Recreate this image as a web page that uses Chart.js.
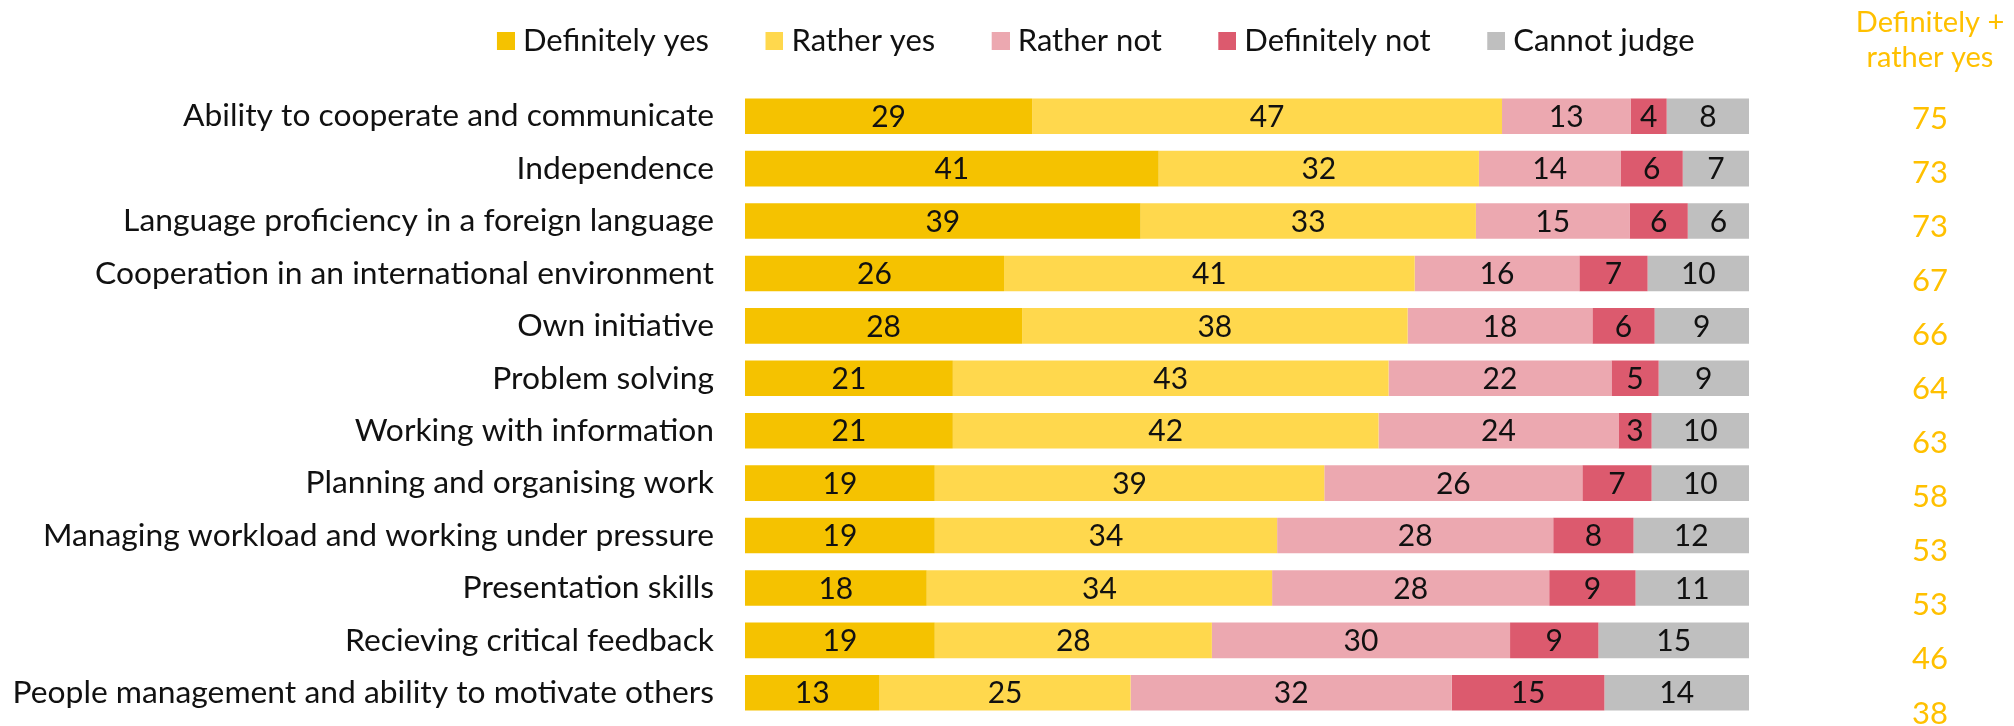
<!DOCTYPE html>
<html>
<head>
<meta charset="utf-8">
<script src="https://cdn.jsdelivr.net/npm/chart.js@4.4.1/dist/chart.umd.min.js"></script>
<style>
  html, body { margin: 0; padding: 0; background: #ffffff; }
  canvas { display: block; }
</style>
</head>
<body>
<canvas id="chart" width="2014" height="726"></canvas>
<script>
const categories = [
  'Ability to cooperate and communicate',
  'Independence',
  'Language proficiency in a foreign language',
  'Cooperation in an international environment',
  'Own initiative',
  'Problem solving',
  'Working with information',
  'Planning and organising work',
  'Managing workload and working under pressure',
  'Presentation skills',
  'Recieving critical feedback',
  'People management and ability to motivate others'
];
const seriesNames = ['Definitely yes', 'Rather yes', 'Rather not', 'Definitely not', 'Cannot judge'];
const definitelyYes = [28.6, 41.2, 39.4, 25.8, 27.6, 20.7, 20.7, 18.9, 18.9, 18.1, 18.9, 13.4];
const ratherYes     = [46.8, 31.9, 33.4, 40.9, 38.4, 43.4, 42.4, 38.8, 34.1, 34.4, 27.6, 25.0];
const ratherNot     = [12.8, 14.1, 15.3, 16.4, 18.4, 22.2, 23.9, 25.7, 27.5, 27.6, 29.7, 32.0];
const definitelyNot = [3.6, 6.2, 5.8, 6.8, 6.2, 4.7, 3.3, 6.9, 8.0, 8.6, 8.8, 15.2];
const cannotJudge   = [8.2, 6.6, 6.1, 10.1, 9.4, 9.0, 9.7, 9.7, 11.5, 11.3, 15.0, 14.4];
const positiveTotal = [75, 73, 73, 67, 66, 64, 63, 58, 53, 53, 46, 38];
const headerLines = ['Definitely +', 'rather yes'];

const colors = ['#F5C200', '#FFD84D', '#ECA8B0', '#DC5A6E', '#BFBFBF'];
const ORANGE = '#FFC000';
const FONT = 'Lato';
const TEXT = '#111111';

function swatch(color) {
  const c = document.createElement('canvas');
  c.width = 57; c.height = 18;
  const g = c.getContext('2d');
  g.fillStyle = color;
  g.fillRect(39, 0, 18, 18);
  return c;
}
const swatches = colors.map(swatch);

const valueLabels = {
  id: 'valueLabels',
  afterDatasetsDraw(chart) {
    const ctx = chart.ctx;
    ctx.save();
    ctx.font = '30px ' + FONT;
    ctx.fillStyle = TEXT;
    ctx.textAlign = 'center';
    ctx.textBaseline = 'middle';
    chart.data.datasets.forEach((ds, di) => {
      const meta = chart.getDatasetMeta(di);
      meta.data.forEach((bar, i) => {
        const v = ds.data[i];
        ctx.fillText(String(Math.round(v)), (bar.x + bar.base) / 2, bar.y + 1);
      });
    });
    ctx.restore();
  }
};

const header = {
  id: 'header',
  afterDraw(chart) {
    const ctx = chart.ctx;
    const y2 = chart.scales.y2;
    ctx.save();
    ctx.font = '29px ' + FONT;
    ctx.fillStyle = ORANGE;
    ctx.textAlign = 'center';
    ctx.textBaseline = 'alphabetic';
    const cx = y2.left + 181;
    ctx.fillText(headerLines[0], cx, 32);
    ctx.fillText(headerLines[1], cx, 67);
    ctx.restore();
  }
};

const datasetArrays = [definitelyYes, ratherYes, ratherNot, definitelyNot, cannotJudge];

function noPad(s) { s.paddingTop = 0; s.paddingBottom = 0; s.paddingLeft = 0; s.paddingRight = 0; }

new Chart(document.getElementById('chart'), {
  type: 'bar',
  data: {
    labels: categories,
    datasets: datasetArrays.map((arr, i) => ({
      label: seriesNames[i],
      data: arr,
      backgroundColor: colors[i],
      borderWidth: 0,
      barPercentage: 0.68,
      categoryPercentage: 1.0,
      xAxisID: 'x',
      yAxisID: 'y'
    }))
  },
  options: {
    indexAxis: 'y',
    responsive: false,
    animation: false,
    layout: { padding: { left: 0, right: -146, top: 0, bottom: 7 } },
    plugins: {
      tooltip: { enabled: false },
      legend: {
        position: 'top',
        align: 'center',
        labels: {
          usePointStyle: true,
          pointStyleWidth: 42,
          padding: 25,
          color: TEXT,
          font: { family: FONT, size: 31 },
          generateLabels(chart) {
            const items = Chart.defaults.plugins.legend.labels.generateLabels(chart);
            items.forEach((it, i) => { it.pointStyle = swatches[i]; });
            return items;
          }
        }
      }
    },
    scales: {
      x: {
        type: 'linear',
        stacked: true,
        min: 0,
        max: 100,
        position: 'top',
        grid: { display: false, drawTicks: false },
        border: { display: false },
        ticks: { display: false },
        afterFit(s) { s.height = 24; noPad(s); }
      },
      y: {
        type: 'category',
        stacked: true,
        position: 'left',
        grid: { display: false, drawTicks: false },
        border: { display: false },
        ticks: { color: TEXT, font: { family: FONT, size: 31.8 }, padding: 31, autoSkip: false },
        afterFit(s) { s.width = 745; noPad(s); }
      },
      y2: {
        type: 'linear',
        position: 'right',
        reverse: true,
        offset: false,
        bounds: 'data',
        min: -0.527,
        max: 11.10,
        grid: { display: false, drawTicks: false, offset: false },
        border: { display: false },
        afterBuildTicks(s) { s.ticks = positiveTotal.map((_, i) => ({ value: i })); },
        ticks: {
          color: ORANGE,
          font: { family: FONT, size: 31 },
          padding: 163,
          crossAlign: 'center',
          autoSkip: false,
          callback: (v, i) => positiveTotal[i]
        },
        afterFit(s) { s.width = 411; noPad(s); }
      }
    }
  },
  plugins: [valueLabels, header]
});
</script>
</body>
</html>
